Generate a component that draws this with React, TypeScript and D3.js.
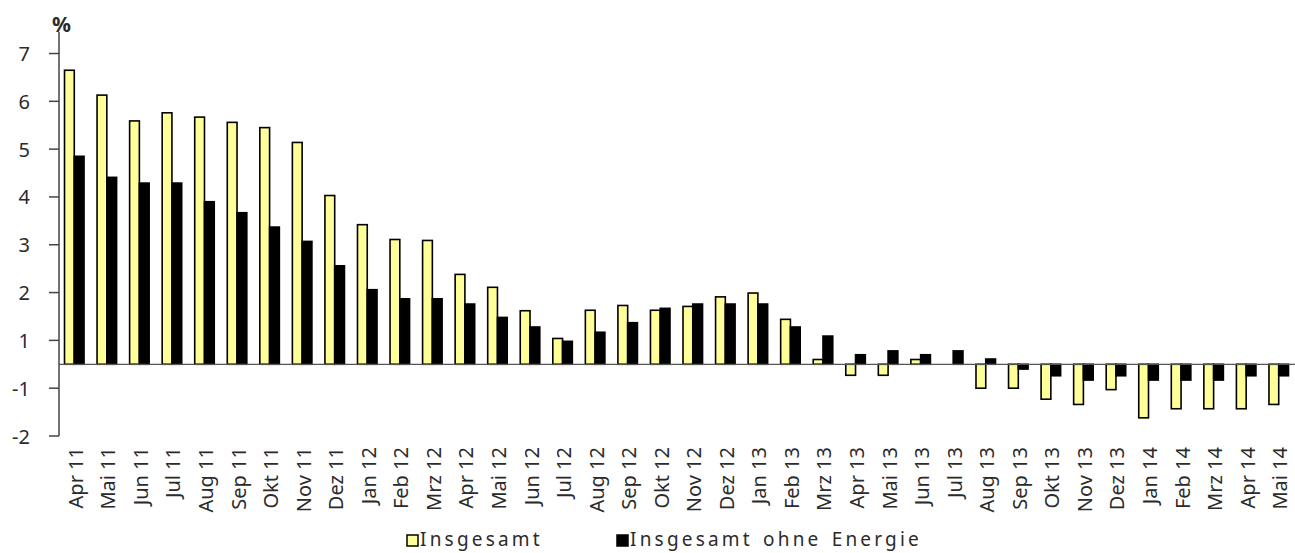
import React from "react";
import * as d3 from "d3";

const categories = [
  "Apr 11", "Mai 11", "Jun 11", "Jul 11", "Aug 11", "Sep 11", "Okt 11", "Nov 11", "Dez 11",
  "Jan 12", "Feb 12", "Mrz 12", "Apr 12", "Mai 12", "Jun 12", "Jul 12", "Aug 12", "Sep 12", "Okt 12", "Nov 12", "Dez 12",
  "Jan 13", "Feb 13", "Mrz 13", "Apr 13", "Mai 13", "Jun 13", "Jul 13", "Aug 13", "Sep 13", "Okt 13", "Nov 13", "Dez 13",
  "Jan 14", "Feb 14", "Mrz 14", "Apr 14", "Mai 14",
];

const insgesamt = [
  6.15, 5.63, 5.09, 5.26, 5.17, 5.06, 4.95, 4.64, 3.53,
  2.92, 2.61, 2.59, 1.88, 1.61, 1.12, 0.54, 1.13, 1.23, 1.13, 1.21, 1.41,
  1.49, 0.94, 0.1, -0.23, -0.23, 0.1, 0.0, -0.5, -0.5, -0.73, -0.84, -0.53,
  -1.12, -0.93, -0.93, -0.93, -0.84,
];

const ohneEnergie = [
  4.35, 3.91, 3.79, 3.79, 3.4, 3.17, 2.87, 2.57, 2.06,
  1.56, 1.37, 1.37, 1.26, 0.98, 0.78, 0.48, 0.67, 0.87, 1.17, 1.26, 1.26,
  1.26, 0.78, 0.59, 0.2, 0.28, 0.2, 0.28, 0.11, -0.1, -0.24, -0.33, -0.24,
  -0.33, -0.33, -0.33, -0.24, -0.24,
];

const tickValues = [6.5, 5.5, 4.5, 3.5, 2.5, 1.5, 0.5, -0.5, -1.5];
const tickLabels = ["7", "6", "5", "4", "3", "2", "1", "-1", "-2"];

const seriesNames = ["Insgesamt", "Insgesamt ohne Energie"];
const seriesColors = ["#ffff99", "#000000"];

const W = 1295;
const H = 553;
const FONT = "'Noto Sans', sans-serif";
const TEXT = "#2b2b2b";

export default function App() {
  const x0 = d3
    .scaleBand<string>()
    .domain(categories)
    .range([58, 1295])
    .paddingInner(0.4)
    .paddingOuter(0.2);
  const x1 = d3.scaleBand<string>().domain(["a", "b"]).range([0, x0.bandwidth()]);
  const y = d3.scaleLinear().domain([-1.5, 6.95]).range([436, 32]);

  const series = [insgesamt, ohneEnergie];
  const axisX = 59;

  return (
    <svg
      width={W}
      height={H}
      style={{ position: "absolute", left: 0, top: 0, background: "#fff" }}
      fontFamily={FONT}
    >
      {/* bars */}
      {categories.map((c, i) => (
        <g key={c} transform={`translate(${x0(c)},0)`}>
          {series.map((s, k) => {
            const v = s[i];
            const y0 = y(0);
            const yv = y(v);
            return (
              <rect
                key={k}
                x={x1(k === 0 ? "a" : "b")!}
                y={Math.min(y0, yv)}
                width={x1.bandwidth()}
                height={Math.abs(yv - y0)}
                fill={seriesColors[k]}
                stroke="#000"
                strokeWidth={1.6}
              />
            );
          })}
        </g>
      ))}

      {/* zero line */}
      <line x1={axisX} x2={1295} y1={y(0)} y2={y(0)} stroke="#555" strokeWidth={1.2} />

      {/* y axis */}
      <line x1={axisX} x2={axisX} y1={y(6.95)} y2={y(-1.5)} stroke="#444" strokeWidth={1.5} />
      {tickValues.map((t, i) => (
        <g key={t}>
          <line x1={49} x2={axisX} y1={y(t)} y2={y(t)} stroke="#444" strokeWidth={1.5} />
          <text
            x={30}
            y={y(t)}
            textAnchor="end"
            dominantBaseline="central"
            fontSize={20}
            fill={TEXT}
          >
            {tickLabels[i]}
          </text>
        </g>
      ))}
      <text x={52} y={32} fontSize={21} fontWeight="bold" fill={TEXT}>
        %
      </text>

      {/* x labels */}
      {categories.map((c) => {
        const cx = (x0(c) ?? 0) + x0.bandwidth() / 2 + 1;
        return (
          <text
            key={c}
            transform={`translate(${cx},447) rotate(-90)`}
            textAnchor="end"
            dominantBaseline="central"
            fontSize={20}
            fill={TEXT}
          >
            {c}
          </text>
        );
      })}

      {/* legend */}
      {[407, 617].map((lx, k) => (
        <g key={k}>
          <rect x={lx} y={535} width={11} height={11} fill={seriesColors[k]} stroke="#000" strokeWidth={1.5} />
          <text
            x={lx + 13}
            y={546}
            fontSize={19}
            letterSpacing={3.2}
            wordSpacing={2}
            fill={TEXT}
          >
            {seriesNames[k]}
          </text>
        </g>
      ))}
    </svg>
  );
}
